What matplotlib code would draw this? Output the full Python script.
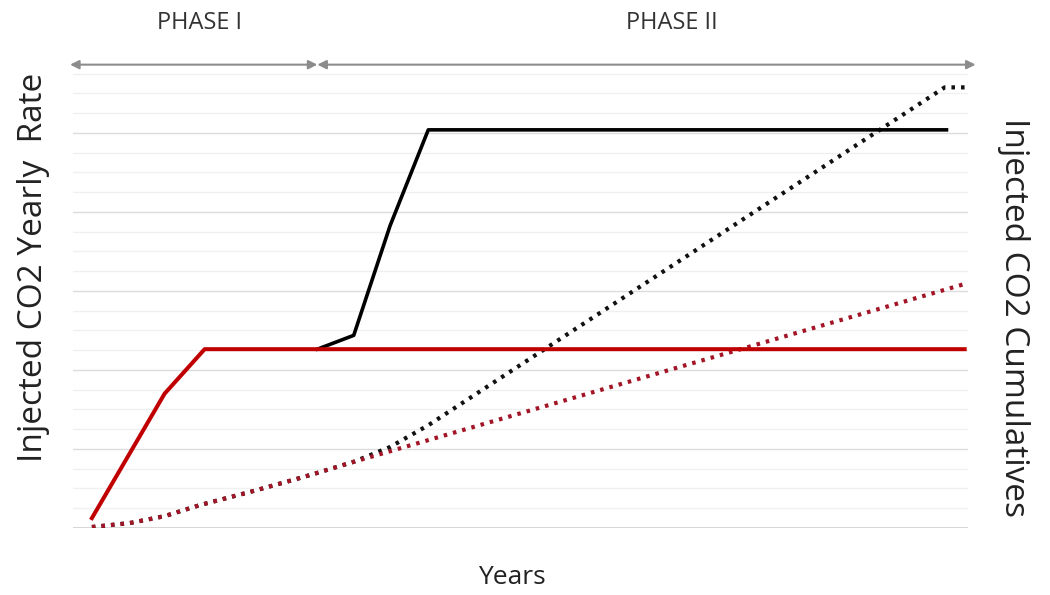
import matplotlib
matplotlib.use("Agg")
import matplotlib.pyplot as plt
import numpy as np

# ---- data (years, arbitrary units) ----
red_rate_x = [0.0, 2.0, 3.1, 24.0]
red_rate_y = [0.5, 6.8, 9.05, 9.05]

black_rate_x = [6.2, 7.2, 8.2, 9.25, 23.5]
black_rate_y = [9.05, 9.75, 15.3, 20.15, 20.15]

red_cum_x = [0.0, 1.04, 2.0, 2.97, 4.34, 5.72, 6.2, 7.09, 24.0]
red_cum_y = [0.05, 0.25, 0.6, 1.16, 1.82, 2.53, 2.79, 3.29, 12.35]

black_cum_x = [0.0, 1.04, 2.0, 2.97, 4.34, 5.72, 6.2, 7.2, 8.2, 9.25, 23.45, 24.0]
black_cum_y = [0.05, 0.25, 0.6, 1.16, 1.82, 2.53, 2.79, 3.35, 4.1, 5.2, 22.3, 22.3]

phase_labels = ["PHASE I", "PHASE II"]
phase_bounds = [-0.6, 6.2, 24.3]

fig = plt.figure(figsize=(10.5, 5.95), dpi=100)
ax = fig.add_axes([0.0695, 0.1126, 0.852, 0.797])
ax.set_xlim(-0.52, 24.08)
ax.set_ylim(0, 24)

# grid
for v in range(0, 24):
    if v == 0:
        c, lw = "#cfcfcf", 1.2
    elif v % 4 == 0:
        c, lw = "#dcdcdc", 1.0
    else:
        c, lw = "#f0f0f0", 1.0
    ax.axhline(v, color=c, lw=lw, zorder=0)

ax.plot(black_cum_x, black_cum_y, color="#111111", lw=3.0, ls=(0, (0.85, 1.45)),
        dash_capstyle="butt", zorder=2)
ax.plot(red_cum_x, red_cum_y, color="#a31526", lw=3.0, ls=(0, (0.85, 1.45)),
        dash_capstyle="butt", zorder=2.5)
ax.plot(black_rate_x, black_rate_y, color="#000000", lw=2.6, zorder=3)
ax.plot(red_rate_x, red_rate_y, color="#c00000", lw=2.9, zorder=4)

for s in ax.spines.values():
    s.set_visible(False)
ax.set_xticks([])
ax.set_yticks([])

# phase arrows
arrow_y = 23.45
for a, b in zip(phase_bounds[:-1], phase_bounds[1:]):
    ax.annotate("", xy=(a, arrow_y), xytext=(b, arrow_y),
                arrowprops=dict(arrowstyle="<|-|>", color="#8c8c8c", lw=1.5,
                                mutation_scale=13, shrinkA=0, shrinkB=0),
                annotation_clip=False)

phase_x = [0.19, 0.64]
for lab, xf in zip(phase_labels, phase_x):
    fig.text(xf, 0.962, lab, ha="center", va="center", fontsize=17,
             family=["Liberation Sans Narrow", "Open Sans"], color="#333333")

fig.text(0.032, 0.551, "Injected CO2 Yearly  Rate", rotation=90, ha="center",
         va="center", fontsize=24, family="Open Sans", color="#222222")
fig.text(0.965, 0.467, "Injected CO2 Cumulatives", rotation=-90, ha="center",
         va="center", fontsize=24, family="Open Sans", color="#222222")
fig.text(0.487, 0.029, "Years", ha="center", va="center", fontsize=19,
         family="Open Sans", color="#222222")

fig.savefig("out.png", dpi=100, facecolor="white")
